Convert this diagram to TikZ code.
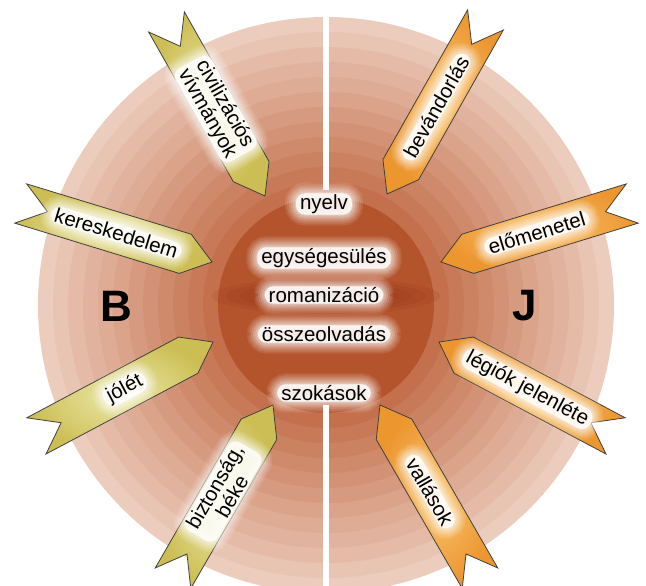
\documentclass[tikz,border=0pt]{standalone}
\usepackage{fontspec}
\setmainfont{Liberation Sans}

\definecolor{ringout}{RGB}{236,204,188}
\definecolor{ringin}{RGB}{196,112,76}
\definecolor{core}{RGB}{180,84,44}
\definecolor{coredark}{RGB}{150,50,22}
\definecolor{yelfill}{RGB}{204,190,84}
\definecolor{yelhi}{RGB}{236,232,170}
\definecolor{orafill}{RGB}{236,150,48}
\definecolor{orahi}{RGB}{250,196,110}

\tikzset{
  every node/.style={font=\fontsize{20.5}{20}\selectfont},
  halo/.style={align=center, inner xsep=4pt, inner ysep=1pt, rounded corners=9pt,
    preaction={draw=white, line width=22pt, opacity=0.1},
    preaction={draw=white, line width=18pt, opacity=0.12},
    preaction={draw=white, line width=14pt, opacity=0.14},
    preaction={draw=white, line width=10pt, opacity=0.18},
    preaction={draw=white, line width=6pt, opacity=0.22},
    preaction={draw=white, line width=2pt, opacity=0.3},
    fill=white, fill opacity=0.85, text opacity=1},
  ribbon/.style={draw=black!75, line width=0.8pt},
  westrib/.style={ribbon, inner color=yelhi, outer color=yelfill},
  eastrib/.style={ribbon, inner color=orahi, outer color=orafill},
  side/.style={font=\fontsize{44}{44}\selectfont\bfseries},
}

\begin{document}
\begin{tikzpicture}[x=1pt, y=-1pt]
  \useasboundingbox (0,0) rectangle (646,586);
  \coordinate (mid) at (326,305);

  % rings
  \foreach \i in {0,...,11}{
    \pgfmathtruncatemacro\mix{100*\i/11}
    \fill[ringin!\mix!ringout] (mid) circle ({288-15*\i});
  }
  \fill[core] (mid) circle (108);
  \foreach \k in {1,...,6}
    \fill[coredark, opacity=0.16] (326,296) ellipse ({30+14*\k} and {3+2.5*\k});

  % gap
  \fill[white] (323,17) rectangle (329,190);
  \fill[white] (323,405) rectangle (329,586);

  % ribbons
  \foreach \tx/\ty/\ang/\kind/\flip/\lbl [count=\n] in {
      265/196/-60.5/westrib/0/{civilizációs\\vívmányok},
      212/262/-17/westrib/0/kereskedelem,
      213/342/28/westrib/0/jólét,
      273/405/60/westrib/0/{biztonság,\\béke},
      387/194/-119.5/eastrib/180/bevándorlás,
      441/262/-163/eastrib/180/előmenetel,
      439/342/152/eastrib/180/légiók jelenléte,
      380/405/120/eastrib/180/vallások}{
    \begin{scope}[shift={(\tx,\ty)}, rotate=\ang]
      \path[\kind] (0,0) -- (-28,20.5) -- (-200,20.5) -- (-172,0)
        -- (-200,-20.5) -- (-28,-20.5) -- cycle;
      \node[halo, transform shape, rotate=\flip] (rib\n) at (-100,0) {\lbl};
    \end{scope}
  }

  % middle words
  \node[halo] (w1) at (324,204) {nyelv};
  \node[halo] (w2) at (324,258) {egységesülés};
  \node[halo] (w3) at (324,295) {romanizáció};
  \node[halo] (w4) at (324,334) {összeolvadás};
  \node[halo] (w5) at (324,393) {szokások};

  \node[side] (west) at (116,306) {B};
  \node[side] (east) at (525,306) {J};
\end{tikzpicture}
\end{document}
